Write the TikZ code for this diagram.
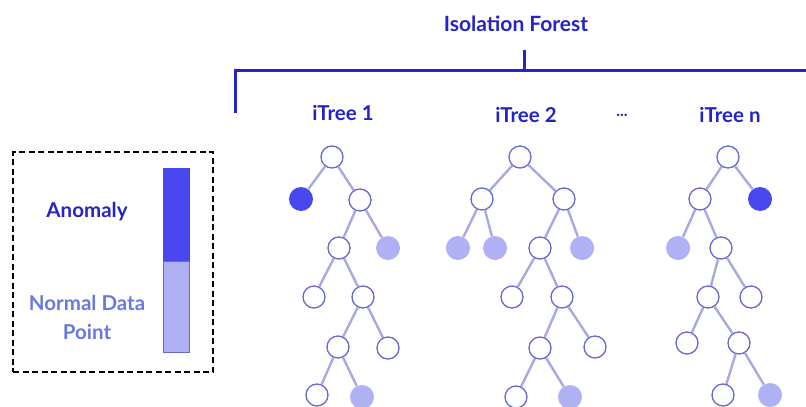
\documentclass[tikz,border=0pt]{standalone}
\usepackage{fontspec}
\setmainfont{Lato}
\definecolor{deepblue}{RGB}{36,36,196}
\definecolor{softblue}{RGB}{104,120,226}
\definecolor{darkfill}{RGB}{72,72,238}
\definecolor{lightfill}{RGB}{176,176,245}
\definecolor{ringcol}{RGB}{104,104,212}
\definecolor{edgecol}{RGB}{168,168,226}
\tikzset{
  wn/.style={circle, draw=ringcol, line width=1.3pt, fill=white, minimum size=22pt, inner sep=0pt},
  an/.style={circle, fill=darkfill, minimum size=24pt, inner sep=0pt},
  nn/.style={circle, fill=lightfill, minimum size=24pt, inner sep=0pt},
  br/.style={draw=edgecol, line width=2.4pt},
  lbl/.style={font=\bfseries\fontsize{20.5}{24}\selectfont, text=deepblue},
}
\begin{document}
\begin{tikzpicture}[x=1pt, y=-1pt]
\useasboundingbox (0,0) rectangle (806,407);

% title and the bracket over the trees
\node[lbl, font=\bfseries\fontsize{21}{24}\selectfont] (title) at (516,24) {Isolation Forest};
\coordinate (stemtop) at (524,50);
\coordinate (stembot) at (524,70);
\coordinate (brl) at (235,113);
\coordinate (brr) at (808,70);
\draw[deepblue, line width=3pt] (brl) |- (brr);
\draw[deepblue, line width=3pt] (stemtop) -- (stembot);

\node[lbl] (t1) at (343,113) {iTree 1};
\node[lbl] (t2) at (526,115) {iTree 2};
\node[lbl, font=\bfseries\fontsize{16}{20}\selectfont] (dots) at (622,115) {...};
\node[lbl] (tn) at (730,115) {iTree n};

% legend
\node[draw, dash pattern=on 6pt off 3.5pt, line width=1.3pt, minimum width=200pt, minimum height=220pt, inner sep=0pt] (legend) at (113,262) {};
\node[fill=darkfill, draw=darkfill, minimum width=26pt, minimum height=93pt, inner sep=0pt] (barA) at (176,214.5) {};
\node[fill=lightfill, draw=ringcol, line width=0.8pt, minimum width=26pt, minimum height=91pt, inner sep=0pt] (barN) at (176,306.5) {};
\node[lbl] (anom) at (87,212) {Anomaly};
\node[lbl, text=softblue, align=center, font=\bfseries\fontsize{20.5}{29}\selectfont] (norm) at (87,317) {Normal Data\\Point};

% ---------- iTree 1 ----------
\node[wn] (a0) at (332,157) {};
\node[an] (a1) at (301,199) {};
\node[wn] (a2) at (360,200) {};
\node[wn] (a3) at (339,248) {};
\node[nn] (a4) at (388,248) {};
\node[wn] (a5) at (314,297) {};
\node[wn] (a6) at (363,297) {};
\node[wn] (a7) at (338,347) {};
\node[wn] (a8) at (388,348) {};
\node[wn] (a9) at (317,395) {};
\node[nn] (a10) at (362,397) {};
\draw[br] (a0) -- (a1); \draw[br] (a0) -- (a2);
\draw[br] (a2) -- (a3); \draw[br] (a2) -- (a4);
\draw[br] (a3) -- (a5); \draw[br] (a3) -- (a6);
\draw[br] (a6) -- (a7); \draw[br] (a6) -- (a8);
\draw[br] (a7) -- (a9); \draw[br] (a7) -- (a10);

% ---------- iTree 2 ----------
\node[wn] (b0) at (520,157) {};
\node[wn] (b1) at (482,199) {};
\node[wn] (b2) at (564,199) {};
\node[nn] (b3) at (458,248) {};
\node[nn] (b4) at (495,248) {};
\node[wn] (b5) at (540,248) {};
\node[nn] (b6) at (582,248) {};
\node[wn] (b7) at (512,297) {};
\node[wn] (b8) at (562,297) {};
\node[wn] (b9) at (540,348) {};
\node[wn] (b10) at (595,347) {};
\node[wn] (b11) at (516,397) {};
\node[nn] (b12) at (570,397) {};
\draw[br] (b0) -- (b1); \draw[br] (b0) -- (b2);
\draw[br] (b1) -- (b3); \draw[br] (b1) -- (b4);
\draw[br] (b2) -- (b5); \draw[br] (b2) -- (b6);
\draw[br] (b5) -- (b7); \draw[br] (b5) -- (b8);
\draw[br] (b8) -- (b9); \draw[br] (b8) -- (b10);
\draw[br] (b9) -- (b11); \draw[br] (b9) -- (b12);

% ---------- iTree n ----------
\node[wn] (c0) at (728,157) {};
\node[wn] (c1) at (700,199) {};
\node[an] (c2) at (760,199) {};
\node[nn] (c3) at (678,248) {};
\node[wn] (c4) at (721,248) {};
\node[wn] (c5) at (708,297) {};
\node[wn] (c6) at (751,297) {};
\node[wn] (c7) at (687,343) {};
\node[wn] (c8) at (739,343) {};
\node[wn] (c9) at (723,395) {};
\node[nn] (c10) at (770,395) {};
\draw[br] (c0) -- (c1); \draw[br] (c0) -- (c2);
\draw[br] (c1) -- (c3); \draw[br] (c1) -- (c4);
\draw[br] (c4) -- (c5); \draw[br] (c4) -- (c6);
\draw[br] (c5) -- (c7); \draw[br] (c5) -- (c8);
\draw[br] (c8) -- (c9); \draw[br] (c8) -- (c10);
\end{tikzpicture}
\end{document}
